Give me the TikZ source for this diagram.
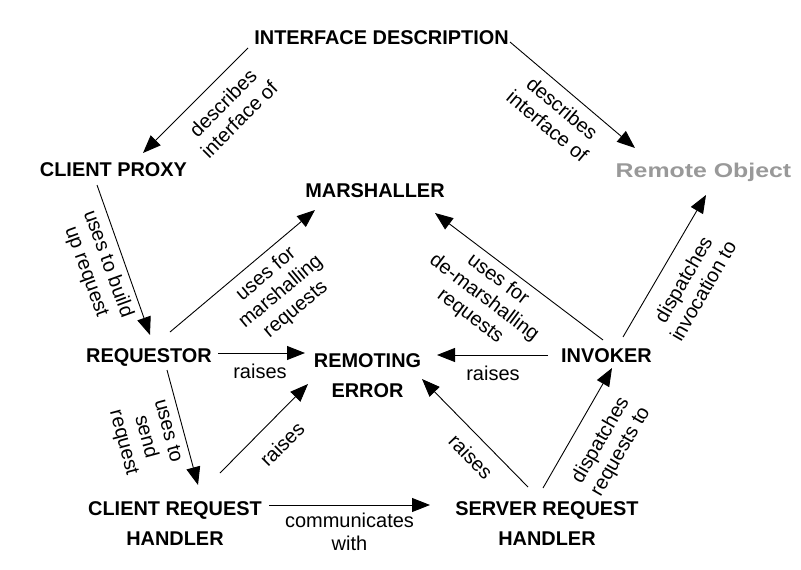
\documentclass[tikz,border=0pt]{standalone}
\usepackage{fontspec}
\setmainfont{Liberation Sans}
\usetikzlibrary{arrows.meta}
\definecolor{rogray}{HTML}{999999}
\begin{document}
\begin{tikzpicture}[x=1pt,y=-1pt,
  comp/.style={font=\fontsize{19.9}{30}\selectfont\bfseries, inner sep=0pt, anchor=base, align=center},
  lbl/.style={font=\fontsize{20}{23}\selectfont, inner sep=0pt, align=center},
  conn/.style={line width=0.9pt, -{Triangle[length=18pt,width=14pt]}}]
\useasboundingbox (0,0) rectangle (801,570);
% components (base = baseline of the last line)
\node[comp] (idesc) at (381.5,45) {INTERFACE DESCRIPTION};
\node[comp] (cproxy) at (113.5,176) {CLIENT PROXY};
\node[comp, text=rogray] (robj) at (703.5,177) {\scalebox{1.25}[1]{Remote Object}};
\node[comp] (marsh) at (375,197) {MARSHALLER};
\node[comp] (req) at (149,362) {REQUESTOR};
\node[comp] (rerr) at (367.5,397) {REMOTING\\ERROR};
\node[comp] (inv) at (606.5,362) {INVOKER};
\node[comp] (crh) at (175,545) {CLIENT REQUEST\\HANDLER};
\node[comp] (srh) at (547,545) {SERVER REQUEST\\HANDLER};
% connectors
\draw[conn] ([shift={(-133.5,3)}]idesc.base) -- ([shift={(29.5,-23)}]cproxy.base);
\draw[conn] ([shift={(128.5,-3)}]idesc.base) -- ([shift={(-68.5,-29)}]robj.base);
\draw[conn] ([shift={(-16.5,9)}]cproxy.base) -- ([shift={(1,-27)}]req.base);
\draw[conn] ([shift={(21,-30)}]req.base) -- ([shift={(-60,13)}]marsh.base);
\draw[conn] ([shift={(69,-9)}]req.base) -- ([shift={(-62.5,-44)}]rerr.base);
\draw[conn] ([shift={(18,8)}]req.base) -- ([shift={(23,-60)}]crh.base);
\draw[conn] ([shift={(45,-72)}]crh.base) -- ([shift={(-59.5,-13)}]rerr.base);
\draw[conn] ([shift={(94,-40)}]crh.base) -- ([shift={(-117,-40)}]srh.base);
\draw[conn] ([shift={(-19,-58)}]srh.base) -- ([shift={(54.5,-18)}]rerr.base);
\draw[conn] ([shift={(-4,-57)}]srh.base) -- ([shift={(5.5,6)}]inv.base);
\draw[conn] ([shift={(-58.5,-7)}]inv.base) -- ([shift={(69.5,-42)}]rerr.base);
\draw[conn] ([shift={(-3.5,-22)}]inv.base) -- ([shift={(60,16)}]marsh.base);
\draw[conn] ([shift={(16.5,-25)}]inv.base) -- ([shift={(2.5,18)}]robj.base);
% labels
\node[lbl, rotate=45] (l1) at (231,111) {describes\\interface of};
\node[lbl, rotate=-40] (l2) at (555,117) {describes\\interface of};
\node[lbl, rotate=-70] (l3) at (97,268) {uses to build\\up request};
\node[lbl, rotate=40] (l4) at (281,292) {uses for\\marshalling\\requests};
\node[lbl, anchor=base] (l5) at (260,378) {raises};
\node[lbl, rotate=-75] (l6) at (145,437) {uses to\\send\\request};
\node[lbl, rotate=45] (l7) at (282,444) {raises};
\node[lbl, anchor=base] (l8) at (349.5,550) {communicates\\with};
\node[lbl, rotate=-46] (l9) at (471,457) {raises};
\node[lbl, rotate=60] (l10) at (611,446) {dispatches\\requests to};
\node[lbl, anchor=base] (l11) at (493,380) {raises};
\node[lbl, rotate=-37] (l12) at (484,298) {uses for\\de-marshalling\\requests};
\node[lbl, rotate=60] (l13) at (693,285) {dispatches\\invocation to};
\end{tikzpicture}
\end{document}
